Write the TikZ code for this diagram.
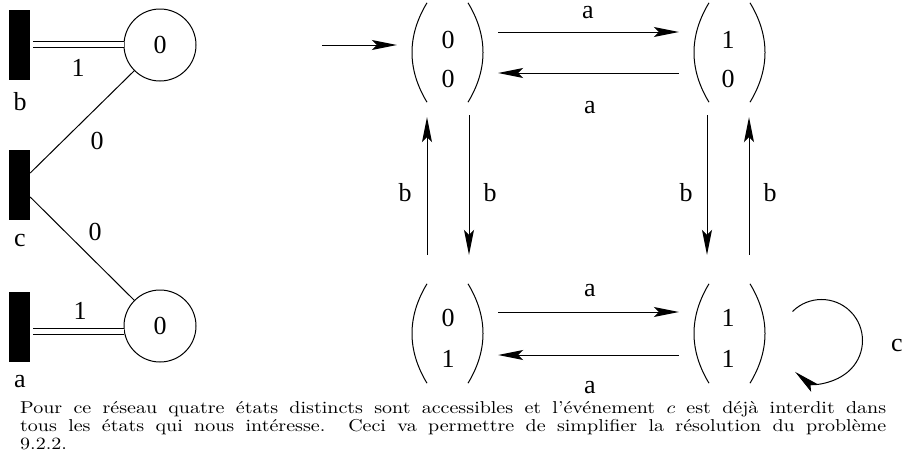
\documentclass[tikz,border=0pt]{standalone}
\usepackage{fontspec}
\usepackage{graphicx}
\usetikzlibrary{arrows.meta}
\newfontfamily\tms{Liberation Serif}
\newcommand{\prn}[1]{%
  \draw[ln] ([xshift=-20.5pt]#1.north) .. controls ([shift={(-40.5,-33)}]#1.north) and ([shift={(-40.5,33)}]#1.south) .. ([xshift=-20.5pt]#1.south);
  \draw[ln] ([xshift=20.5pt]#1.north) .. controls ([shift={(40.5,-33)}]#1.north) and ([shift={(40.5,33)}]#1.south) .. ([xshift=20.5pt]#1.south);}
\begin{document}
\begin{tikzpicture}[x=1pt,y=1pt,
  ln/.style={line width=1pt},
  arr/.style={line width=1pt,-{Stealth[length=25pt,width=10pt,inset=5pt]}},
  dbl/.style={line width=1pt,double,double distance=5.5pt},
  lbl/.style={font=\tms\fontsize{26}{26}\selectfont,inner sep=0},
  place/.style={circle,draw,line width=1pt,minimum size=72pt,inner sep=0,font=\tms\fontsize{26}{26}\selectfont},
  trans/.style={fill=black,minimum width=21pt,minimum height=70pt,inner sep=0},
  state/.style={minimum width=101pt,minimum height=99pt,inner sep=0}]
\useasboundingbox (0,0) rectangle (902,-464);
% Petri net
\node[trans] (tb) at (19.5,-45) {};
\node[trans] (tc) at (19.5,-185) {};
\node[trans] (ta) at (19.5,-327) {};
\node[place] (pb) at (160,-45) {0};
\node[place] (pa) at (160,-326) {0};
\draw[dbl] ([shift={(3pt,0.5pt)}]tb.east) -- ([yshift=0.5pt]pb.west);
\draw[dbl] ([shift={(3pt,-4.5pt)}]ta.east) -- ([yshift=-5.5pt]pa.west);
\draw[ln] (pb.south west) -- ([yshift=12pt]tc.east);
\draw[ln] (pa.north west) -- ([yshift=-12pt]tc.east);
\node[lbl] (lb) at (20,-102) {b};
\node[lbl] (lc) at (20,-240) {c};
\node[lbl] (la) at (20,-382) {a};
\node[lbl] (w1) at (78,-68) {1};
\node[lbl] (w2) at (97,-141) {0};
\node[lbl] (w3) at (95,-232) {0};
\node[lbl] (w4) at (80,-311) {1};
% states
\node[state] (s00) at (447.5,-52.5) {};
\node[state] (s10) at (729.5,-52.5) {};
\node[state] (s01) at (447.5,-333.5) {};
\node[state] (s11) at (729.5,-333.5) {};
\prn{s00}\prn{s10}\prn{s01}\prn{s11}
\node[lbl] (d00a) at (448,-40) {0};
\node[lbl] (d00b) at (448,-79) {0};
\node[lbl] (d10a) at (728,-40) {1};
\node[lbl] (d10b) at (728,-79) {0};
\node[lbl] (d01a) at (448,-318) {0};
\node[lbl] (d01b) at (448,-359) {1};
\node[lbl] (d11a) at (728,-318) {1};
\node[lbl] (d11b) at (728,-359) {1};
% transitions of the graph
\coordinate (in) at (322,-45);
\draw[arr] (in) -- ([yshift=7.5pt]s00.west);
\draw[arr] ([yshift=20.5pt]s00.east) -- ([yshift=20.5pt]s10.west);
\draw[arr] ([yshift=-20.5pt]s10.west) -- ([yshift=-20.5pt]s00.east);
\draw[arr] ([yshift=21.5pt]s01.east) -- ([yshift=21.5pt]s11.west);
\draw[arr] ([yshift=-21.5pt]s11.west) -- ([yshift=-21.5pt]s01.east);
\draw[arr] ([shift={(-20.5,29)}]s01.north) -- ([shift={(-20.5,-15)}]s00.south);
\draw[arr] ([shift={(21.5,-13)}]s00.south) -- ([shift={(21.5,29)}]s01.north);
\draw[arr] ([shift={(-22.5,-13)}]s10.south) -- ([shift={(-22.5,29)}]s11.north);
\draw[arr] ([shift={(19.5,29)}]s11.north) -- ([shift={(19.5,-15)}]s10.south);
\draw[arr] ([shift={(63,22)}]s11.center) arc[start angle=135,end angle=-130,radius=41];
\node[lbl] (ea1) at (588,-13) {a};
\node[lbl] (ea2) at (590,-108) {a};
\node[lbl] (ea3) at (590,-291) {a};
\node[lbl] (ea4) at (590,-388) {a};
\node[lbl] (eb1) at (405,-193) {b};
\node[lbl] (eb2) at (490,-193) {b};
\node[lbl] (eb3) at (686,-193) {b};
\node[lbl] (eb4) at (770,-193) {b};
\node[lbl] (ec) at (897,-345) {c};
% caption
\node[anchor=base west,inner sep=0] (cap) at (20,-413) {\scalebox{2.0}[1.72]{\parbox[t]{433pt}{\fontsize{10}{10.5}\selectfont\makebox[433pt][s]{Pour ce réseau quatre états distincts sont accessibles et l'événement $c$ est déjà interdit dans}\\\makebox[433pt][s]{tous les états qui nous intéresse. Ceci va permettre de simplifier la résolution du problème}\\9.2.2.}}};
\end{tikzpicture}
\end{document}
